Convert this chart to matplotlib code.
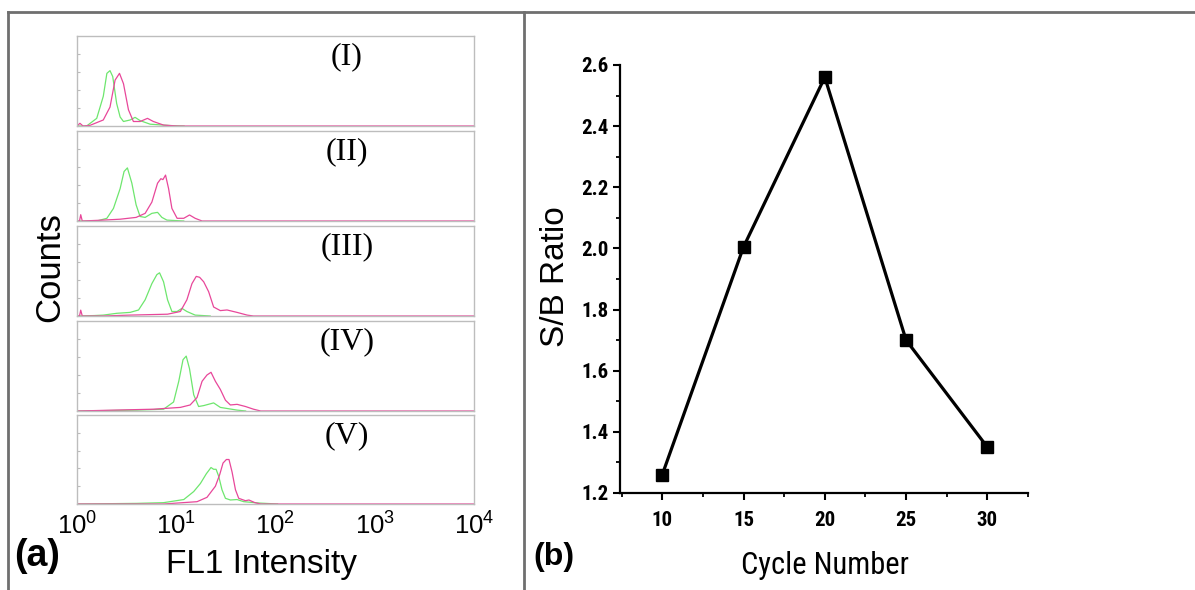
import numpy as np
import matplotlib.pyplot as plt
from matplotlib import font_manager
from matplotlib.lines import Line2D
from matplotlib.ticker import MultipleLocator

plt.rcParams['font.family'] = ['Liberation Sans', 'DejaVu Sans']
plt.rcParams['mathtext.default'] = 'regular'

# pick a narrow sans for panel (b) if one is installed
installed = {f.name for f in font_manager.fontManager.ttflist}
narrow_family = ['Liberation Sans']
narrow_stretch = 'normal'
if 'Liberation Sans Narrow' in installed:
    narrow_family = ['Liberation Sans Narrow', 'Liberation Sans']
elif 'Roboto Condensed' in installed:
    narrow_family = ['Roboto Condensed', 'Liberation Sans']
elif any(f.name == 'DejaVu Sans' and f.stretch == 'condensed' for f in font_manager.fontManager.ttflist):
    narrow_family = ['DejaVu Sans']
    narrow_stretch = 'condensed'

# panel (a): flow cytometry histograms, FL1 intensity vs relative counts
panel_labels = ["(I)", "(II)", "(III)", "(IV)", "(V)"]

g1_x = [1.0, 1.25, 1.58, 1.84, 2.0, 2.15, 2.29, 2.51, 2.72, 2.94, 3.43, 3.85, 4.32, 5.46, 8.7, 12]
g1_y = [0, 0, .085, .33, .585, .615, .55, .25, .10, .05, .067, .096, .06, .02, .005, 0]
p1_x = [1.0, 1.07, 1.15, 1.35, 1.84, 2.15, 2.42, 2.68, 2.94, 3.30, 3.70, 4.32, 5.13, 5.88, 7.45, 10.2, 10000]
p1_y = [0, .03, 0, .007, .067, .21, .51, .585, .47, .18, .05, .05, .085, .05, .01, 0, 0]

g2_x = [1.0, 1.58, 2.0, 2.33, 2.72, 2.98, 3.22, 3.57, 3.94, 4.32, 4.86, 5.68, 6.48, 7.17, 8.05, 11.9]
g2_y = [0, 0, .03, .14, .36, .55, .59, .42, .18, .05, .04, .085, .096, .04, .01, 0]
p2_x = [1.0, 1.06, 1.09, 1.13, 1.84, 2.72, 3.94, 4.86, 5.68, 6.48, 7.0, 7.34, 7.8, 8.37, 9.04, 10.2, 11.9, 13.6, 15.5, 18.2, 10000]
p2_y = [0, 0, .07, 0, .01, .02, .04, .085, .21, .42, .47, .46, .51, .36, .14, .03, .03, .067, .03, 0, 0]

g3_x = [1.0, 1.5, 1.84, 2.52, 3.43, 4.17, 4.86, 5.68, 6.38, 6.79, 7.45, 8.17, 9.04, 10.2, 11.4, 12.8, 15.5, 22]
g3_y = [0, .005, .01, .03, .04, .067, .18, .36, .46, .48, .38, .18, .05, .05, .085, .05, .01, 0]
p3_x = [1.0, 1.06, 1.09, 1.13, 1.84, 3.43, 8.17, 11.0, 12.8, 14.4, 15.9, 17.2, 18.9, 21.2, 23.8, 27.8, 32.5, 41, 51.8, 60, 10000]
p3_y = [0, 0, .065, 0, 0, .01, .02, .05, .18, .36, .44, .43, .38, .27, .10, .06, .067, .04, .01, 0, 0]

g4_x = [1.0, 4.0, 7.45, 9.4, 10.6, 11.7, 12.6, 13.6, 15.0, 16.8, 18.9, 23.8, 27.8, 41, 50]
g4_y = [0, .01, .02, .10, .33, .57, .61, .47, .18, .05, .06, .09, .04, .01, 0]
p4_x = [1.0, 5.9, 11.0, 13.8, 16.2, 18.2, 20.4, 22.4, 24.8, 27.8, 31.3, 35.1, 41, 49.8, 60, 71, 10000]
p4_y = [0, .02, .04, .067, .15, .33, .40, .43, .33, .24, .12, .067, .074, .05, .02, 0, 0]

g5_x = [1.0, 4.0, 7.45, 11.9, 15.0, 17.5, 20.1, 22.4, 23.8, 25.2, 26.8, 28.9, 31.3, 35.1, 41, 47.9, 70, 105]
g5_y = [0, .007, .015, .05, .14, .23, .34, .41, .39, .39, .31, .16, .064, .045, .05, .026, .01, 0]
p5_x = [1.0, 7.45, 16.2, 20.4, 24.8, 27.4, 29.6, 32, 34, 36.5, 39.5, 42.6, 49.8, 54, 62, 71, 10000]
p5_y = [0, 0, .026, .075, .2, .33, .46, .5, .5, .36, .16, .064, .037, .045, .015, 0, 0]

green_x = [g1_x, g2_x, g3_x, g4_x, g5_x]
green_y = [g1_y, g2_y, g3_y, g4_y, g5_y]
pink_x = [p1_x, p2_x, p3_x, p4_x, p5_x]
pink_y = [p1_y, p2_y, p3_y, p4_y, p5_y]

# panel (b): S/B ratio vs cycle number
cycles = [10, 15, 20, 25, 30]
sb_ratio = [1.26, 2.005, 2.56, 1.70, 1.35]

W, H = 1195, 590
fig = plt.figure(figsize=(W / 100, H / 100), dpi=100)

def fx(px):
    return px / W

def fy(py):
    return 1 - py / H

# outer frame lines
frame_col = "#6f6f6f"
fig.add_artist(Line2D([fx(8), fx(1195)], [fy(12), fy(12)], color=frame_col, lw=2))
fig.add_artist(Line2D([fx(8), fx(8)], [fy(12), fy(590)], color=frame_col, lw=2))
fig.add_artist(Line2D([fx(524), fx(524)], [fy(12), fy(590)], color=frame_col, lw=2))

tops = [36, 131, 226, 321, 415]
left_px, right_px = 77, 474
for i, top in enumerate(tops):
    h = 90 if i < 4 else 89
    ax = fig.add_axes([fx(left_px), fy(top + h), fx(right_px - left_px), h / H])
    ax.plot(green_x[i], green_y[i], color="#6ee66e", lw=0.9)
    ax.plot(pink_x[i], pink_y[i], color="#e8479a", lw=0.9)
    ax.set_xscale("log")
    ax.set_xlim(1, 1e4)
    ax.set_ylim(0, 1)
    for s in ax.spines.values():
        s.set_color("#bdbdbd")
        s.set_linewidth(1)
    ax.set_yticks([0.2, 0.4, 0.6, 0.8])
    ax.tick_params(axis="y", direction="in", length=2, color="#bbbbbb", labelleft=False)
    ax.tick_params(axis="x", which="both", length=0)
    ax.text(0.68, 0.765, panel_labels[i], transform=ax.transAxes, ha="center", va="center",
            fontsize=23, family=["Liberation Serif", "DejaVu Serif"])
    if i < 4:
        ax.tick_params(axis="x", which="both", labelbottom=False)
    else:
        ax.set_xticks([1, 10, 100, 1000, 10000])
        ax.set_xticklabels([r"$10^{0}$", r"$10^{1}$", r"$10^{2}$", r"$10^{3}$", r"$10^{4}$"])
        ax.tick_params(axis="x", labelsize=18.5, pad=6)
        ax.xaxis.set_minor_formatter(plt.NullFormatter())

fig.text(fx(262), fy(565), "FL1 Intensity", fontsize=24, ha="center", va="center")
fig.text(fx(50), fy(267), "Counts", fontsize=25, rotation=90, ha="center", va="center")
fig.text(fx(37), fy(556), "(a)", fontsize=27, fontweight="bold", ha="center", va="center")

# right panel
axb = fig.add_axes([fx(620), fy(493), fx(1028 - 620), (493 - 65) / H])
axb.plot(cycles, sb_ratio, color="black", lw=2.3, marker="s", markersize=9)
axb.set_xlim(7.4, 32.5)
axb.set_ylim(1.2, 2.6)
axb.set_xticks(cycles)
axb.set_yticks([1.2, 1.4, 1.6, 1.8, 2.0, 2.2, 2.4, 2.6])
axb.xaxis.set_minor_locator(MultipleLocator(2.5))
axb.yaxis.set_minor_locator(MultipleLocator(0.1))
axb.spines["top"].set_visible(False)
axb.spines["right"].set_visible(False)
axb.spines["left"].set_linewidth(1.6)
axb.spines["bottom"].set_linewidth(1.6)
axb.tick_params(which="major", direction="out", length=5, width=1.5, labelsize=15)
axb.tick_params(which="minor", direction="out", length=3, width=1.3)
axb.tick_params(axis="x", pad=8)
for lab in axb.get_xticklabels() + axb.get_yticklabels():
    lab.set_fontweight("bold")
    lab.set_family(narrow_family)
    lab.set_fontstretch(narrow_stretch)
fig.text(fx(556), fy(277), "S/B Ratio", fontsize=24, rotation=90, ha="center", va="center")
fig.text(fx(825), fy(565), "Cycle Number", fontsize=22, ha="center", va="center",
         family=narrow_family, fontstretch=narrow_stretch)
fig.text(fx(554), fy(557), "(b)", fontsize=23, fontweight="bold", ha="center", va="center")

fig.savefig("out.png", dpi=100)
